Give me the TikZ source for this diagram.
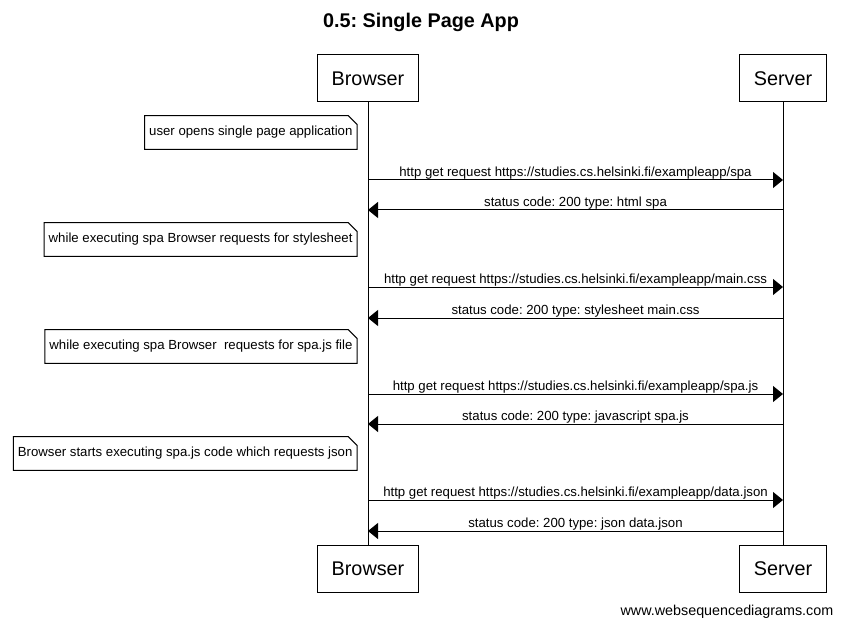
\documentclass[tikz,border=0pt]{standalone}
\usepackage{fontspec}
\setmainfont{Liberation Sans}
\usetikzlibrary{arrows.meta}
\frenchspacing

\tikzset{
  actor/.style={draw, line width=0.75pt, minimum height=35.25pt, inner xsep=10.5pt, font=\fontsize{14.85}{17}\selectfont},
  lifeline/.style={line width=0.75pt},
  msg/.style={line width=0.75pt, -{Triangle[length=7.5pt,width=12pt]}},
  lbl/.style={above, inner sep=0.5pt, font=\fontsize{9.9}{12}\selectfont},
  note/.style={anchor=east, minimum height=24.75pt, inner xsep=3.2pt, font=\fontsize{9.9}{12}\selectfont},
}
% note outline with cut corner
\newcommand\dogear[1]{%
  \draw[line width=0.75pt] (#1.south west) -- (#1.south east) -- ([yshift=-6.5pt]#1.north east)
    -- ([xshift=-6.5pt]#1.north east) -- (#1.north west) -- cycle;
}

\begin{document}
\begin{tikzpicture}[x=0.75pt,y=-0.75pt]
\useasboundingbox (0,0) rectangle (842,627);

\node[font=\bfseries\fontsize{14.85}{17}\selectfont] (title) at (421,22) {0.5: Single Page App};

% participants
\node[actor] (btop) at (368,78.5) {Browser};
\node[actor] (stop) at (783,78.5) {Server};
\node[actor] (bbot) at (368,569) {Browser};
\node[actor] (sbot) at (783,569) {Server};
\draw[lifeline] (btop) -- (bbot);
\draw[lifeline] (stop) -- (sbot);

% notes
\node[note] (n1) at (357,132.5) {user opens single page application};
\dogear{n1}
\node[note] (n2) at (357,239.5) {while executing spa Browser requests for stylesheet};
\dogear{n2}
\node[note] (n3) at (357,346.5) {while executing spa Browser\ \ requests for spa.js file};
\dogear{n3}
\node[note] (n4) at (357,453.5) {Browser starts executing spa.js code which requests json};
\dogear{n4}

% messages
\coordinate (b1) at (368,180); \coordinate (s1) at (783,180);
\coordinate (b2) at (368,210); \coordinate (s2) at (783,210);
\coordinate (b3) at (368,287); \coordinate (s3) at (783,287);
\coordinate (b4) at (368,318); \coordinate (s4) at (783,318);
\coordinate (b5) at (368,394); \coordinate (s5) at (783,394);
\coordinate (b6) at (368,424); \coordinate (s6) at (783,424);
\coordinate (b7) at (368,500); \coordinate (s7) at (783,500);
\coordinate (b8) at (368,531); \coordinate (s8) at (783,531);

\draw[msg] (b1) -- node[lbl] {http get request https://studies.cs.helsinki.fi/exampleapp/spa} (s1);
\draw[msg] (s2) -- node[lbl] {status code: 200 type: html spa} (b2);
\draw[msg] (b3) -- node[lbl] {http get request https://studies.cs.helsinki.fi/exampleapp/main.css} (s3);
\draw[msg] (s4) -- node[lbl] {status code: 200 type: stylesheet main.css} (b4);
\draw[msg] (b5) -- node[lbl] {http get request https://studies.cs.helsinki.fi/exampleapp/spa.js} (s5);
\draw[msg] (s6) -- node[lbl] {status code: 200 type: javascript spa.js} (b6);
\draw[msg] (b7) -- node[lbl] {http get request https://studies.cs.helsinki.fi/exampleapp/data.json} (s7);
\draw[msg] (s8) -- node[lbl] {status code: 200 type: json data.json} (b8);

\node[anchor=east, font=\fontsize{10.75}{13}\selectfont] (wsd) at (838,612) {www.websequencediagrams.com};
\end{tikzpicture}
\end{document}
